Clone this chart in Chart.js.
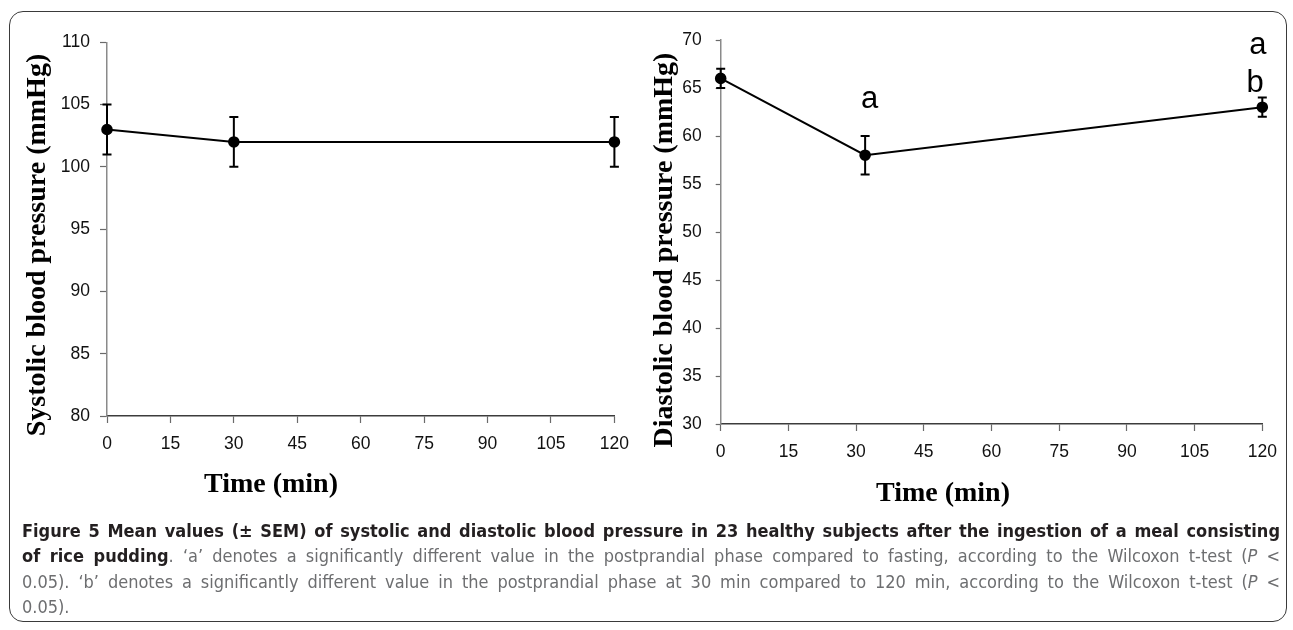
<!DOCTYPE html>
<html lang="en">
<head>
    <meta charset="UTF-8">
    <title>Figure 5 - Blood pressure</title>
    <style>
        body { margin: 0; background: #fff; }
        #page { position: relative; width: 1293px; height: 630px; overflow: hidden; }
        .frame { position: absolute; left: 9px; top: 11px; width: 1276px; height: 609px;
                 border: 1.5px solid #3a3a3a; border-radius: 14px; }
        canvas { position: absolute; top: 0; }
        #sysChart { left: 0; }
        #diaChart { left: 640px; }
        .caption { position: absolute; left: 22px; top: 518px; width: 1258px;
                   font-family: "Liberation Sans Narrow", "DejaVu Sans Condensed", "Arial Narrow", sans-serif;
                   font-stretch: condensed; font-size: 18px; line-height: 25.4px; color: #6d6e70; }
        .caption div { white-space: nowrap; }
        .caption .ln { text-align: justify; text-align-last: justify; }
        .caption b { color: #231f20; }
    </style>
    <script src="https://cdn.jsdelivr.net/npm/chart.js"></script>
</head>
<body>
<div id="page">
    <div class="frame"></div>
    <canvas id="sysChart" width="640" height="520"></canvas>
    <canvas id="diaChart" width="653" height="520"></canvas>
    <div class="caption">
        <div class="ln"><b>Figure 5 Mean values (± SEM) of systolic and diastolic blood pressure in 23 healthy subjects after the ingestion of a meal consisting</b></div>
        <div class="ln"><b>of rice pudding</b>. ‘a’ denotes a significantly different value in the postprandial phase compared to fasting, according to the Wilcoxon t-test (<i>P</i> &lt;</div>
        <div class="ln">0.05). ‘b’ denotes a significantly different value in the postprandial phase at 30 min compared to 120 min, according to the Wilcoxon t-test (<i>P</i> &lt;</div>
        <div>0.05).</div>
    </div>
</div>

<script>
    // data
    const timeTicks = [0, 15, 30, 45, 60, 75, 90, 105, 120];
    const sysTicks = [80, 85, 90, 95, 100, 105, 110];
    const diaTicks = [30, 35, 40, 45, 50, 55, 60, 65, 70];

    const sysTimes = [0, 30, 120];
    const sysMean = [103, 102, 102];
    const sysSem = [2, 2, 2];

    const diaTimes = [0, 32, 120];
    const diaMean = [66, 58, 63];
    const diaSem = [1, 2, 1];

    // significance letters (a = vs fasting, b = 30 vs 120 min)
    const letterText = ['a', 'a', 'b'];
    const letterX = [33, 119, 118.4];
    const letterY = [62.9, 68.5, 64.6];

    const tickFont = { family: 'Arial, "Liberation Sans", sans-serif', size: 17.5 };
    const titleFont = 'bold 28px "Times New Roman", "Liberation Serif", serif';

    // error bars drawn from the SEM arrays through the chart's own scales
    const errorBars = {
        id: 'errorBars',
        afterDatasetsDraw(chart, args, opts) {
            const ctx = chart.ctx;
            const xs = chart.scales.x, ys = chart.scales.y;
            ctx.save();
            ctx.strokeStyle = '#000';
            ctx.lineWidth = 2;
            opts.times.forEach((t, i) => {
                const px = xs.getPixelForValue(t);
                const top = ys.getPixelForValue(opts.mean[i] + opts.sem[i]);
                const bot = ys.getPixelForValue(opts.mean[i] - opts.sem[i]);
                ctx.beginPath();
                ctx.moveTo(px, top); ctx.lineTo(px, bot);
                ctx.moveTo(px - 4.5, top); ctx.lineTo(px + 4.5, top);
                ctx.moveTo(px - 4.5, bot); ctx.lineTo(px + 4.5, bot);
                ctx.stroke();
            });
            ctx.restore();
        }
    };

    // axis titles and letters
    const extraText = {
        id: 'extraText',
        afterDraw(chart, args, opts) {
            const ctx = chart.ctx;
            ctx.save();
            ctx.fillStyle = '#000';
            ctx.font = titleFont;
            ctx.textAlign = 'center';
            ctx.textBaseline = 'alphabetic';
            ctx.fillText(opts.xTitle, opts.xTitleAt[0], opts.xTitleAt[1]);
            ctx.translate(opts.yTitleAt[0], opts.yTitleAt[1]);
            ctx.rotate(-Math.PI / 2);
            ctx.textBaseline = 'middle';
            ctx.fillText(opts.yTitle, 0, 0);
            ctx.restore();
            if (opts.letters) {
                ctx.save();
                ctx.fillStyle = '#000';
                ctx.font = '31px Arial, "Liberation Sans", sans-serif';
                ctx.textAlign = 'center';
                opts.letters.text.forEach((s, i) => {
                    ctx.fillText(s, chart.scales.x.getPixelForValue(opts.letters.x[i]),
                                 chart.scales.y.getPixelForValue(opts.letters.y[i]));
                });
                ctx.restore();
            }
        }
    };

    function makeChart(id, times, mean, sem, yTicks, cfg) {
        const ctx = document.getElementById(id).getContext('2d');
        return new Chart(ctx, {
            type: 'line',
            data: {
                datasets: [{
                    data: times.map((t, i) => ({ x: t, y: mean[i] })),
                    borderColor: '#000',
                    borderWidth: 2,
                    pointRadius: 4.8,
                    pointBackgroundColor: '#000',
                    pointBorderColor: '#000',
                    tension: 0,
                    clip: false
                }]
            },
            options: {
                responsive: false,
                animation: false,
                devicePixelRatio: 1,
                layout: { padding: { top: cfg.top, right: cfg.right, left: 0, bottom: 0 } },
                plugins: {
                    legend: { display: false },
                    tooltip: { enabled: false },
                    errorBars: { times: times, mean: mean, sem: sem },
                    extraText: cfg.text
                },
                scales: {
                    x: {
                        type: 'linear',
                        min: 0, max: 120,
                        afterBuildTicks: s => { s.ticks = timeTicks.map(v => ({ value: v })); },
                        afterFit: s => { s.height = cfg.xHeight; },
                        border: { color: '#3c3c3c', width: 1.5 },
                        grid: { drawOnChartArea: false, tickLength: 7, tickColor: '#6a6a6a', tickWidth: 1.2 },
                        ticks: { color: '#111', font: tickFont, padding: 11, autoSkip: false, maxRotation: 0 }
                    },
                    y: {
                        min: yTicks[0], max: yTicks[yTicks.length - 1],
                        afterBuildTicks: s => { s.ticks = yTicks.map(v => ({ value: v })); },
                        afterFit: s => { s.width = cfg.yWidth; },
                        border: { color: '#8a8a8a', width: 1.5 },
                        grid: { drawOnChartArea: false, tickLength: cfg.yTick, tickColor: '#6a6a6a', tickWidth: 1.2 },
                        ticks: { color: '#111', font: tickFont, padding: cfg.yPad, autoSkip: false }
                    }
                }
            },
            plugins: [errorBars, extraText]
        });
    }

    makeChart('sysChart', sysTimes, sysMean, sysSem, sysTicks, {
        top: 42.3, right: 16.7, xHeight: 104, yWidth: 107, yTick: 7, yPad: 10,
        text: { xTitle: 'Time (min)', xTitleAt: [271, 492], yTitle: 'Systolic blood pressure (mmHg)', yTitleAt: [38, 245] }
    });

    makeChart('diaChart', diaTimes, diaMean, diaSem, diaTicks, {
        top: 40, right: 30.7, xHeight: 96, yWidth: 80.7, yTick: 5, yPad: 14,
        text: {
            xTitle: 'Time (min)', xTitleAt: [303, 500.7], yTitle: 'Diastolic blood pressure (mmHg)', yTitleAt: [25, 250],
            letters: { text: letterText, x: letterX, y: letterY }
        }
    });
</script>
</body>
</html>
